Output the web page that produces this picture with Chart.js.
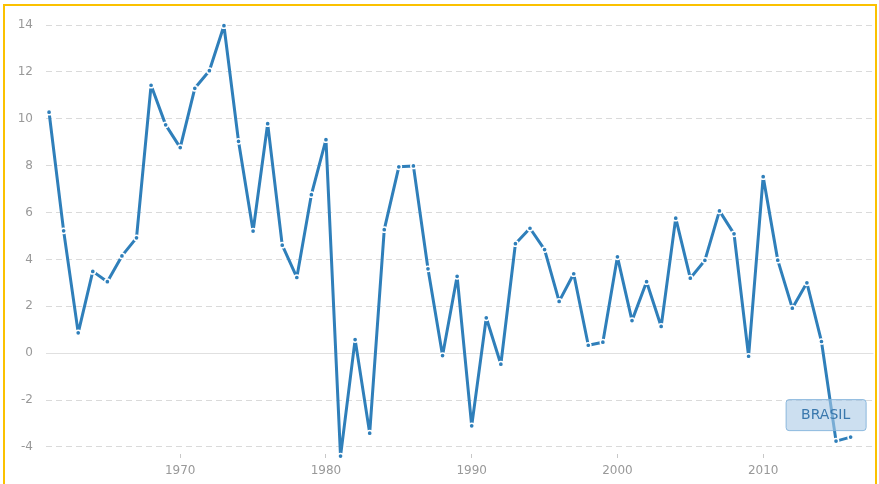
<!DOCTYPE html>
<html>
<head>
<meta charset="utf-8">
<script src="https://cdn.jsdelivr.net/npm/chart.js@4/dist/chart.umd.min.js"></script>
<style>
  html, body { margin: 0; padding: 0; background: #fff; }
  #wrap { position: relative; width: 879px; height: 484px; }
  #frame {
    position: absolute; left: 3px; top: 4px; width: 874px; height: 520px;
    border: 2px solid #fbc100; box-sizing: border-box;
  }
  canvas { position: absolute; left: 0; top: 0; }
</style>
</head>
<body>
<div id="wrap">
  <div id="frame"></div>
  <canvas id="chart" width="879" height="484"></canvas>
</div>
<script>
// ===== dados =====
const years = [1961, 1962, 1963, 1964, 1965, 1966, 1967, 1968, 1969, 1970,
  1971, 1972, 1973, 1974, 1975, 1976, 1977, 1978, 1979, 1980,
  1981, 1982, 1983, 1984, 1985, 1986, 1987, 1988, 1989, 1990,
  1991, 1992, 1993, 1994, 1995, 1996, 1997, 1998, 1999, 2000,
  2001, 2002, 2003, 2004, 2005, 2006, 2007, 2008, 2009, 2010,
  2011, 2012, 2013, 2014, 2015, 2016];

const growth = [10.28, 5.22, 0.87, 3.49, 3.05, 4.15, 4.92, 11.43, 9.74, 8.77,
  11.30, 12.05, 13.97, 9.04, 5.21, 9.79, 4.61, 3.23, 6.76, 9.11,
  -4.39, 0.58, -3.41, 5.27, 7.95, 7.99, 3.60, -0.10, 3.28, -3.10,
  1.51, -0.47, 4.67, 5.33, 4.42, 2.21, 3.39, 0.34, 0.47, 4.11,
  1.39, 3.05, 1.14, 5.76, 3.20, 3.96, 6.07, 5.09, -0.13, 7.53,
  3.97, 1.92, 3.00, 0.50, -3.75, -3.58];

const xTicks = [1970, 1980, 1990, 2000, 2010];
const yTicks = [-4, -2, 0, 2, 4, 6, 8, 10, 12, 14];
const seriesName = "BRASIL";

const BLUE = "#2f7fba";
const tickFont = { family: "DejaVu Sans", size: 12 };

// ===== rótulo da série =====
const seriesLabel = {
  id: "seriesLabel",
  afterDatasetsDraw(chart) {
    const meta = chart.getDatasetMeta(0);
    const last = meta.data[meta.data.length - 1];
    const ctx = chart.ctx;
    const w = 80, h = 31;
    const x = last.x + 15 - w;
    const y = last.y - 7 - h;
    ctx.save();
    ctx.beginPath();
    ctx.roundRect(x + 0.5, y + 0.5, w, h, 3);
    ctx.fillStyle = "rgba(170, 202, 230, 0.6)";
    ctx.fill();
    ctx.strokeStyle = "rgba(130, 178, 218, 0.9)";
    ctx.lineWidth = 1;
    ctx.stroke();
    ctx.fillStyle = "#3a78ad";
    ctx.font = "14px 'DejaVu Sans'";
    ctx.textAlign = "center";
    ctx.textBaseline = "middle";
    ctx.fillText(seriesName, x + w / 2, y + h / 2 + 1);
    ctx.restore();
  }
};

new Chart(document.getElementById("chart"), {
  type: "line",
  data: {
    datasets: [{
      label: seriesName,
      data: years.map((yr, i) => ({ x: yr, y: growth[i] })),
      borderColor: BLUE,
      borderWidth: 3,
      borderJoinStyle: "round",
      backgroundColor: BLUE,
      pointBackgroundColor: BLUE,
      pointBorderColor: "#ffffff",
      pointBorderWidth: 1.5,
      pointRadius: 2.6,
      tension: 0,
      clip: false
    }]
  },
  options: {
    responsive: false,
    animation: false,
    devicePixelRatio: 1,
    layout: { padding: { left: 4, top: 25, right: 3, bottom: 0 } },
    plugins: {
      legend: { display: false },
      tooltip: { enabled: false }
    },
    scales: {
      x: {
        type: "linear",
        min: 1960.79,
        max: 2017.57,
        afterBuildTicks: (scale) => { scale.ticks = xTicks.map(v => ({ value: v })); },
        afterFit: (scale) => { scale.height = 30; },
        grid: {
          drawOnChartArea: false,
          drawTicks: true,
          tickLength: 4,
          tickColor: "#c8c8c8"
        },
        border: { display: false },
        ticks: {
          color: "#999",
          font: tickFont,
          padding: 6,
          maxRotation: 0,
          callback: (v) => String(v)
        }
      },
      y: {
        min: -4.3,
        max: 14,
        afterBuildTicks: (scale) => { scale.ticks = yTicks.map(v => ({ value: v })); },
        afterFit: (scale) => { scale.width = 42; },
        grid: {
          drawTicks: false,
          color: (c) => (c.tick && c.tick.value === 0) ? "#e0e0e0" : "#dadada",
          lineWidth: 1
        },
        border: {
          display: false,
          dash: (c) => (c.tick && c.tick.value === 0) ? [] : [6, 4]
        },
        ticks: {
          color: "#999",
          font: tickFont,
          padding: 13
        }
      }
    }
  },
  plugins: [seriesLabel]
});
</script>
</body>
</html>
